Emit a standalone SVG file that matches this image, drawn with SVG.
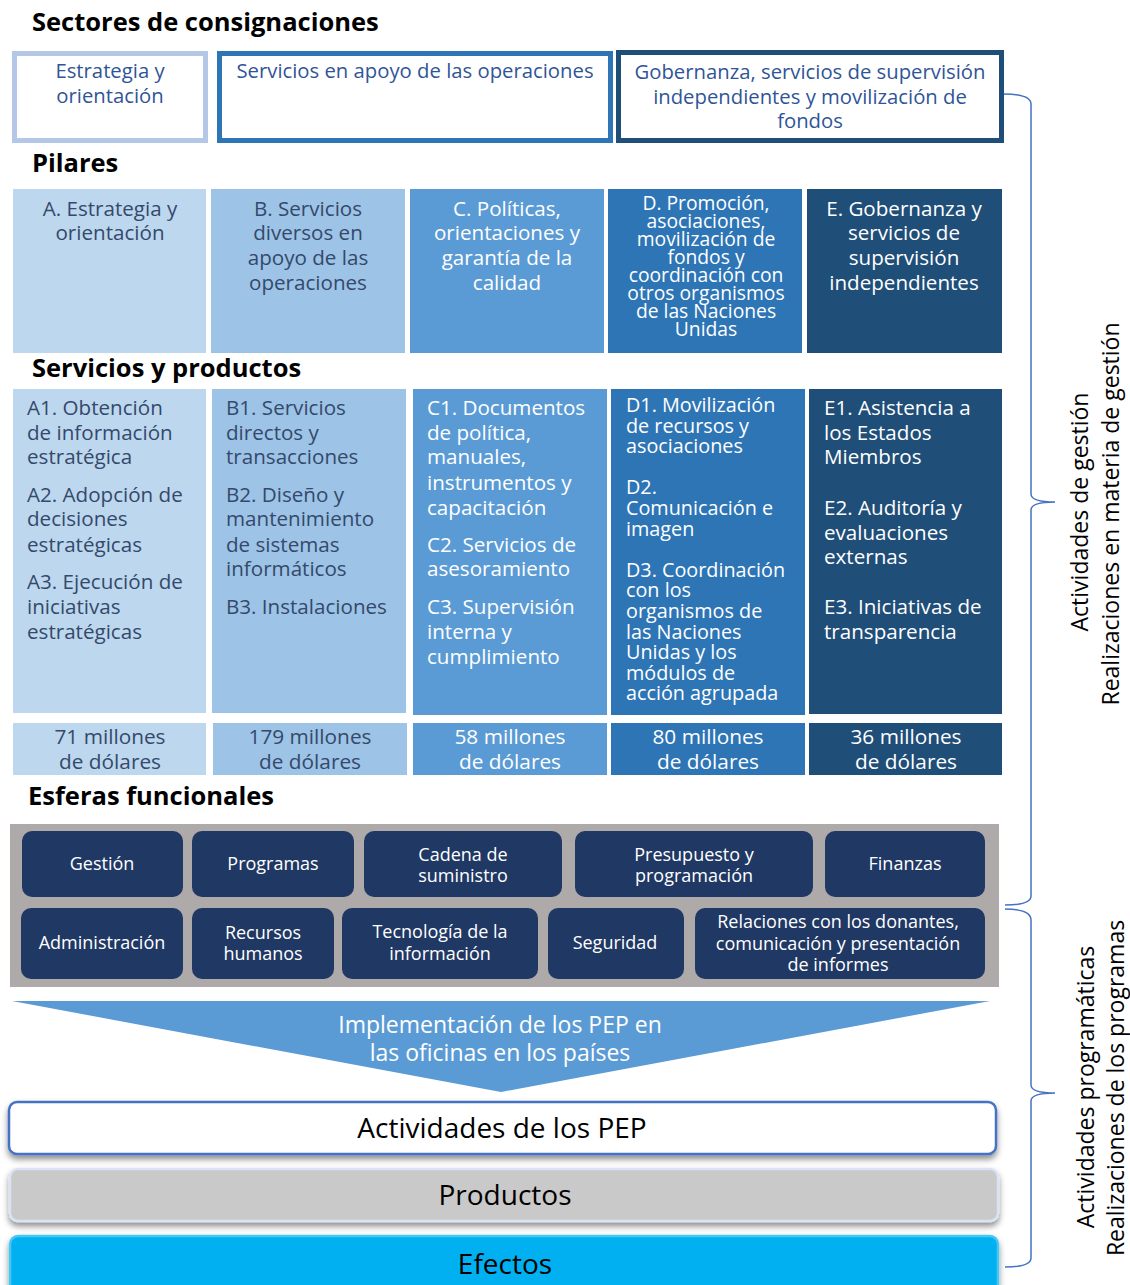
<svg xmlns="http://www.w3.org/2000/svg" width="1130" height="1285" viewBox="0 0 1130 1285">
<style>
text{font-family:"Open Sans","DejaVu Sans",sans-serif;}
.h{font-size:25.5px;font-weight:bold;fill:#000;}
.hd{font-size:20.3px;fill:#2f5597;text-anchor:middle;}
.p{font-size:20.6px;text-anchor:middle;}
.pd{font-size:19.3px;text-anchor:middle;fill:#fff;}
.s{font-size:20.6px;}
.sd{font-size:19.8px;fill:#fff;}
.dk{fill:#34496b;}
.wt{fill:#fff;}
.m{font-size:20.8px;text-anchor:middle;}
.f{font-size:18px;fill:#fff;text-anchor:middle;}
.fb{fill:#203864;}
.br{fill:none;stroke:#4472c4;stroke-width:1.5;}
.rt{font-size:23px;fill:#000;text-anchor:middle;}
</style>
<defs>
<filter id="sh" x="-5%" y="-30%" width="110%" height="170%">
<feDropShadow dx="0" dy="4" stdDeviation="3" flood-color="#000" flood-opacity="0.45"/>
</filter>
</defs>

<text class="h" x="32" y="31">Sectores de consignaciones</text>
<g id="sector1">
<rect x="14.5" y="53.5" width="191" height="87" fill="#fff" stroke="#b4c7e7" stroke-width="5"/>
<text class="hd" x="110" y="78">Estrategia y</text>
<text class="hd" x="110" y="103">orientación</text>
</g>
<g id="sector2">
<rect x="219.5" y="53.5" width="391" height="87" fill="#fff" stroke="#2e75b6" stroke-width="5"/>
<text class="hd" x="415" y="78">Servicios en apoyo de las operaciones</text>
</g>
<g id="sector3">
<rect x="618.5" y="52.5" width="383" height="88" fill="#fff" stroke="#1f4e79" stroke-width="5"/>
<text class="hd" x="810" y="79">Gobernanza, servicios de supervisión</text>
<text class="hd" x="810" y="104">independientes y movilización de</text>
<text class="hd" x="810" y="128">fondos</text>
</g>

<text class="h" x="32" y="172">Pilares</text>
<g id="pilarA">
<rect x="13" y="189" width="193" height="164" fill="#bdd7ee"/>
<text class="p dk" x="110" y="216">A. Estrategia y</text>
<text class="p dk" x="110" y="240">orientación</text>
</g>
<g id="pilarB">
<rect x="211" y="189" width="194" height="164" fill="#9dc3e6"/>
<text class="p dk" x="308" y="216">B. Servicios</text>
<text class="p dk" x="308" y="240">diversos en</text>
<text class="p dk" x="308" y="265">apoyo de las</text>
<text class="p dk" x="308" y="290">operaciones</text>
</g>
<g id="pilarC">
<rect x="410" y="189" width="194" height="164" fill="#5b9bd5"/>
<text class="p wt" x="507" y="216">C. Políticas,</text>
<text class="p wt" x="507" y="240">orientaciones y</text>
<text class="p wt" x="507" y="265">garantía de la</text>
<text class="p wt" x="507" y="290">calidad</text>
</g>
<g id="pilarD">
<rect x="608" y="189" width="194" height="164" fill="#2e75b6"/>
<text class="pd" x="706" y="210">D. Promoción,</text>
<text class="pd" x="706" y="228">asociaciones,</text>
<text class="pd" x="706" y="246">movilización de</text>
<text class="pd" x="706" y="264">fondos y</text>
<text class="pd" x="706" y="282">coordinación con</text>
<text class="pd" x="706" y="300">otros organismos</text>
<text class="pd" x="706" y="318">de las Naciones</text>
<text class="pd" x="706" y="336">Unidas</text>
</g>
<g id="pilarE">
<rect x="807" y="189" width="195" height="164" fill="#1f4e79"/>
<text class="p wt" x="904" y="216">E. Gobernanza y</text>
<text class="p wt" x="904" y="240">servicios de</text>
<text class="p wt" x="904" y="265">supervisión</text>
<text class="p wt" x="904" y="290">independientes</text>
</g>

<text class="h" x="32" y="377">Servicios y productos</text>
<g id="serviciosA">
<rect x="13" y="389" width="193" height="324" fill="#bdd7ee"/>
<text class="s dk" x="27" y="415">A1. Obtención</text>
<text class="s dk" x="27" y="440">de información</text>
<text class="s dk" x="27" y="464">estratégica</text>
<text class="s dk" x="27" y="502">A2. Adopción de</text>
<text class="s dk" x="27" y="526">decisiones</text>
<text class="s dk" x="27" y="552">estratégicas</text>
<text class="s dk" x="27" y="589">A3. Ejecución de</text>
<text class="s dk" x="27" y="614">iniciativas</text>
<text class="s dk" x="27" y="639">estratégicas</text>
</g>
<g id="serviciosB">
<rect x="212" y="389" width="194" height="324" fill="#9dc3e6"/>
<text class="s dk" x="226" y="415">B1. Servicios</text>
<text class="s dk" x="226" y="440">directos y</text>
<text class="s dk" x="226" y="464">transacciones</text>
<text class="s dk" x="226" y="502">B2. Diseño y</text>
<text class="s dk" x="226" y="526">mantenimiento</text>
<text class="s dk" x="226" y="552">de sistemas</text>
<text class="s dk" x="226" y="576">informáticos</text>
<text class="s dk" x="226" y="614">B3. Instalaciones</text>
</g>
<g id="serviciosC">
<rect x="413" y="389" width="194" height="326" fill="#5b9bd5"/>
<text class="s wt" x="427" y="415">C1. Documentos</text>
<text class="s wt" x="427" y="440">de política,</text>
<text class="s wt" x="427" y="464">manuales,</text>
<text class="s wt" x="427" y="490">instrumentos y</text>
<text class="s wt" x="427" y="515">capacitación</text>
<text class="s wt" x="427" y="552">C2. Servicios de</text>
<text class="s wt" x="427" y="576">asesoramiento</text>
<text class="s wt" x="427" y="614">C3. Supervisión</text>
<text class="s wt" x="427" y="639">interna y</text>
<text class="s wt" x="427" y="664">cumplimiento</text>
</g>
<g id="serviciosD">
<rect x="611" y="389" width="194" height="326" fill="#2e75b6"/>
<text class="sd" x="626" y="412">D1. Movilización</text>
<text class="sd" x="626" y="433">de recursos y</text>
<text class="sd" x="626" y="453">asociaciones</text>
<text class="sd" x="626" y="494">D2.</text>
<text class="sd" x="626" y="515">Comunicación e</text>
<text class="sd" x="626" y="536">imagen</text>
<text class="sd" x="626" y="577">D3. Coordinación</text>
<text class="sd" x="626" y="597">con los</text>
<text class="sd" x="626" y="618">organismos de</text>
<text class="sd" x="626" y="639">las Naciones</text>
<text class="sd" x="626" y="659">Unidas y los</text>
<text class="sd" x="626" y="680">módulos de</text>
<text class="sd" x="626" y="700">acción agrupada</text>
</g>
<g id="serviciosE">
<rect x="809" y="389" width="193" height="325" fill="#1f4e79"/>
<text class="s wt" x="824" y="415">E1. Asistencia a</text>
<text class="s wt" x="824" y="440">los Estados</text>
<text class="s wt" x="824" y="464">Miembros</text>
<text class="s wt" x="824" y="515">E2. Auditoría y</text>
<text class="s wt" x="824" y="540">evaluaciones</text>
<text class="s wt" x="824" y="564">externas</text>
<text class="s wt" x="824" y="614">E3. Iniciativas de</text>
<text class="s wt" x="824" y="639">transparencia</text>
</g>

<g id="montoA">
<rect x="13" y="723" width="193" height="52" fill="#bdd7ee"/>
<text class="m dk" x="110" y="744">71 millones</text>
<text class="m dk" x="110" y="769">de dólares</text>
</g>
<g id="montoB">
<rect x="213" y="723" width="194" height="52" fill="#9dc3e6"/>
<text class="m dk" x="310" y="744">179 millones</text>
<text class="m dk" x="310" y="769">de dólares</text>
</g>
<g id="montoC">
<rect x="413" y="723" width="194" height="52" fill="#5b9bd5"/>
<text class="m wt" x="510" y="744">58 millones</text>
<text class="m wt" x="510" y="769">de dólares</text>
</g>
<g id="montoD">
<rect x="611" y="723" width="194" height="52" fill="#2e75b6"/>
<text class="m wt" x="708" y="744">80 millones</text>
<text class="m wt" x="708" y="769">de dólares</text>
</g>
<g id="montoE">
<rect x="809" y="723" width="193" height="52" fill="#1f4e79"/>
<text class="m wt" x="906" y="744">36 millones</text>
<text class="m wt" x="906" y="769">de dólares</text>
</g>

<text class="h" x="28" y="805">Esferas funcionales</text>
<g id="esferas">
<rect x="10" y="824" width="989" height="163" fill="#aeaaaa"/>
<g id="gestion"><rect class="fb" x="22" y="831" width="161" height="66" rx="10"/><text class="f" x="102" y="870">Gestión</text></g>
<g id="programas"><rect class="fb" x="192" y="831" width="162" height="66" rx="10"/><text class="f" x="273" y="870">Programas</text></g>
<g id="cadena"><rect class="fb" x="364" y="831" width="198" height="66" rx="10"/><text class="f" x="463" y="861">Cadena de</text><text class="f" x="463" y="882">suministro</text></g>
<g id="presupuesto"><rect class="fb" x="575" y="831" width="238" height="66" rx="10"/><text class="f" x="694" y="861">Presupuesto y</text><text class="f" x="694" y="882">programación</text></g>
<g id="finanzas"><rect class="fb" x="825" y="831" width="160" height="66" rx="10"/><text class="f" x="905" y="870">Finanzas</text></g>
<g id="administracion"><rect class="fb" x="21" y="908" width="162" height="71" rx="10"/><text class="f" x="102" y="949">Administración</text></g>
<g id="rrhh"><rect class="fb" x="192" y="908" width="142" height="71" rx="10"/><text class="f" x="263" y="939">Recursos</text><text class="f" x="263" y="960">humanos</text></g>
<g id="tic"><rect class="fb" x="342" y="908" width="196" height="71" rx="10"/><text class="f" x="440" y="938">Tecnología de la</text><text class="f" x="440" y="960">información</text></g>
<g id="seguridad"><rect class="fb" x="548" y="908" width="136" height="71" rx="10"/><text class="f" x="615" y="949">Seguridad</text></g>
<g id="relaciones"><rect class="fb" x="695" y="908" width="290" height="71" rx="10"/><text class="f" x="838" y="928">Relaciones con los donantes,</text><text class="f" x="838" y="950">comunicación y presentación</text><text class="f" x="838" y="971">de informes</text></g>
</g>

<g id="implementacion">
<polygon points="12,1001 990,1001 501,1092" fill="#5b9bd5"/>
<text class="p wt" x="500" y="1033" style="font-size:23px">Implementación de los PEP en</text>
<text class="p wt" x="500" y="1061" style="font-size:23px">las oficinas en los países</text>
</g>

<g id="actividades">
<rect x="9" y="1102" width="987" height="52" rx="8" fill="#fff" stroke="#4472c4" stroke-width="2.5" filter="url(#sh)"/>
<text x="502" y="1138" style="font-size:28px;text-anchor:middle;fill:#000">Actividades de los PEP</text>
</g>
<g id="productos">
<rect x="10" y="1169" width="988" height="52" rx="8" fill="#c9c9c9" stroke="#dae3f3" stroke-width="2.5" filter="url(#sh)"/>
<text x="505" y="1205" style="font-size:28px;text-anchor:middle;fill:#000">Productos</text>
</g>
<g id="efectos">
<rect x="10" y="1236" width="988" height="60" rx="8" fill="#00b0f0" stroke="#4cc6f3" stroke-width="2.5" filter="url(#sh)"/>
<text x="505" y="1274" style="font-size:28px;text-anchor:middle;fill:#000">Efectos</text>
</g>

<g id="connectors">
<path class="br" d="M1004,94 Q1031,94 1031,104 L1031,494 Q1031,502 1055,502 Q1031,502 1031,510 L1031,896 Q1031,905 1005,905"/>
<path class="br" d="M1005,909 Q1031,909 1031,920 L1031,1085 Q1031,1093 1055,1093 Q1031,1093 1031,1101 L1031,1258 Q1031,1267 1005,1267"/>
</g>

<g id="etiquetas">
<text class="rt" transform="translate(1088,512) rotate(-90)">Actividades de gestión</text>
<text class="rt" transform="translate(1119,514) rotate(-90)">Realizaciones en materia de gestión</text>
<text class="rt" transform="translate(1094,1087) rotate(-90)">Actividades programáticas</text>
<text class="rt" transform="translate(1124,1088) rotate(-90)">Realizaciones de los programas</text>
</g>
</svg>
